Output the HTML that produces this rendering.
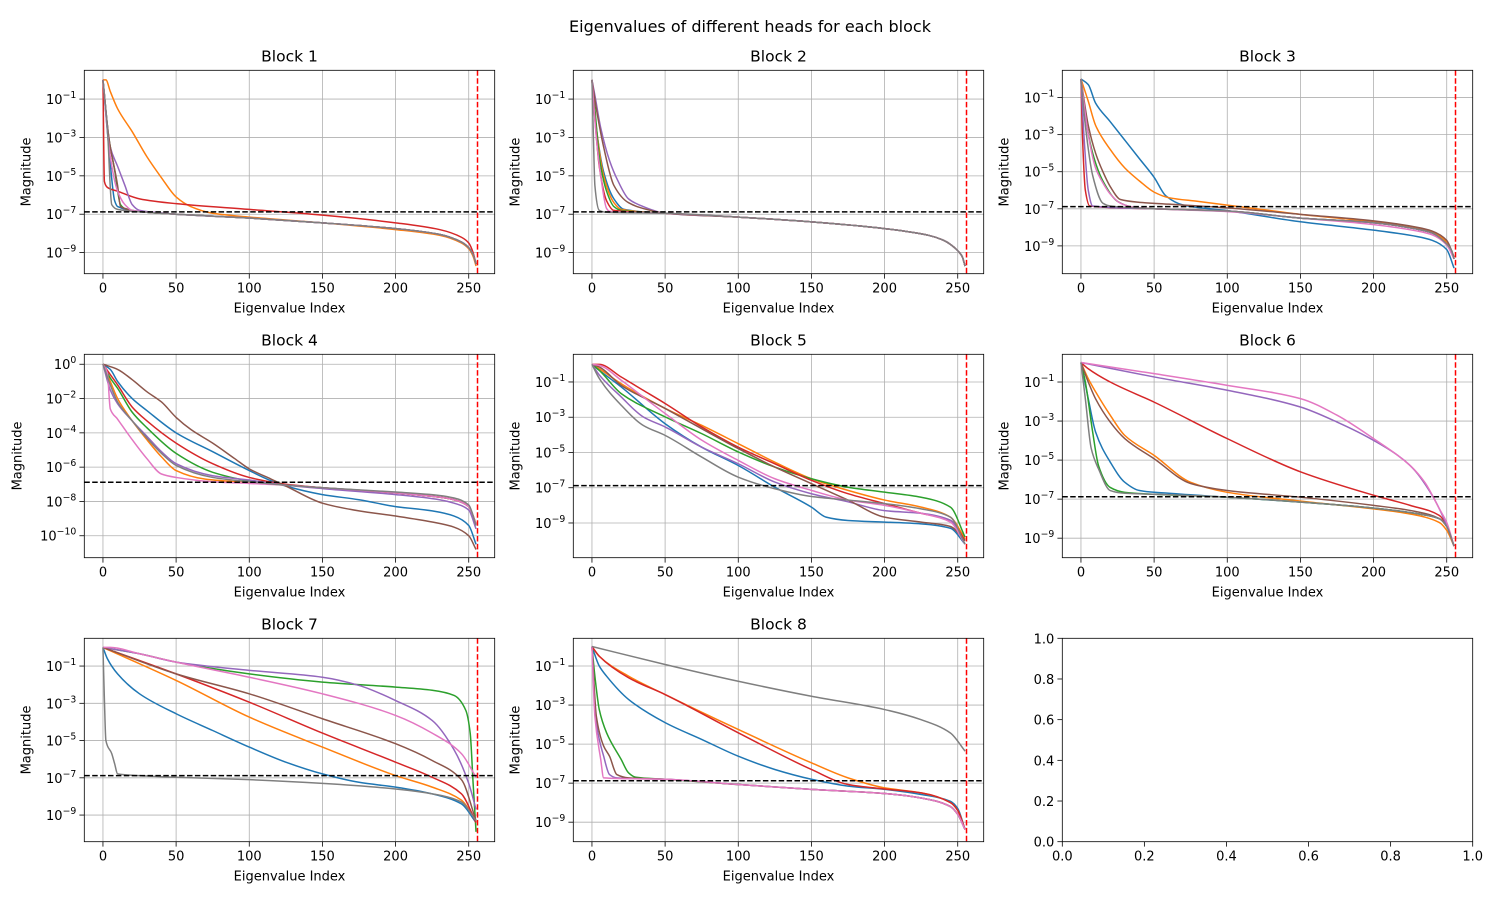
<!DOCTYPE html>
<html><head><meta charset="utf-8"><style>
html,body{margin:0;padding:0;background:#fff}
svg{display:block;font-family:"DejaVu Sans","Liberation Sans",sans-serif}
</style></head><body>
<svg id="fig" width="1500" height="900" viewBox="0 0 1500 900" xmlns="http://www.w3.org/2000/svg">
<rect width="1500" height="900" fill="#fff"/>
<text x="750" y="32" text-anchor="middle" font-size="16" fill="#000">Eigenvalues of different heads for each block</text>
</svg>
<script>
// colors of the 8 heads
const headColors = ["#1f77b4","#ff7f0e","#2ca02c","#d62728","#9467bd","#8c564b","#e377c2","#7f7f7f"];
const blockTitles = ["Block 1","Block 2","Block 3","Block 4","Block 5","Block 6","Block 7","Block 8"];
const xTicks = [0,50,100,150,200,250];
const yTickExpA = [-1,-3,-5,-7,-9];
const yTickExpB = [0,-2,-4,-6,-8,-10];
const thresholdLog = -6.88;
const cutoffIndex = 256;
const yLimits = [[-10.1,0.5],[-10.1,0.5],[-10.5,0.47],[-11.28,0.58],[-10.97,0.57],[-10.0,0.42],[-10.43,0.49],[-10.0,0.42]];
const emptyTicks = ["0.0","0.2","0.4","0.6","0.8","1.0"];

// series data: [index, log10(magnitude)] pairs, order = heads 1..8
const tail1 = [[50,-7.0],[100,-7.2],[150,-7.45],[200,-7.75],[230,-8.05],[245,-8.45],[250,-8.75],[253,-9.1],[255,-9.6]];
const block1 = [
 [[0,0],[4,-3.5],[8,-6.3],[10,-6.6],[30,-6.9]].concat(tail1),
 [[0,0],[2,0],[5,-0.6],[10,-1.5],[20,-2.7],[30,-4],[40,-5.1],[50,-6.1],[60,-6.6],[75,-6.95],[100,-7.15],[150,-7.45],[200,-7.8],[230,-8.1],[245,-8.5],[250,-8.8],[253,-9.2],[255,-9.7]],
 [[0,0],[4,-3],[8,-4.7],[12,-6.5],[15,-6.7],[30,-6.9]].concat(tail1),
 [[0,0],[1,-5.3],[3,-5.6],[10,-5.8],[25,-6.2],[50,-6.45],[100,-6.75],[150,-7.05],[200,-7.45],[230,-7.8],[245,-8.2],[250,-8.5],[253,-9],[255,-9.6]],
 [[0,0],[5,-3.5],[10,-4.5],[15,-5.5],[20,-6.5],[25,-6.8],[35,-6.9]].concat(tail1),
 [[0,0],[4,-3],[10,-5.5],[12,-6.6],[30,-6.9]].concat(tail1),
 [[0,0],[5,-4],[10,-5.8],[15,-6.5],[20,-6.8],[35,-6.92]].concat(tail1),
 [[0,0],[3,-2.5],[6,-6.5],[10,-6.75],[30,-6.9]].concat(tail1)
];
const tail2 = [[50,-6.95],[100,-7.15],[150,-7.4],[200,-7.75],[230,-8.1],[240,-8.35],[250,-8.9],[253,-9.2],[255,-9.7]];
const block2 = [
 [[0,0],[3,-2.5],[8,-4.8],[15,-6.2],[22,-6.75]].concat(tail2),
 [[0,0],[3,-2.5],[8,-5],[15,-6.4],[20,-6.75]].concat(tail2),
 [[0,0],[2,-1.5],[5,-4],[10,-5.8],[15,-6.6],[20,-6.8]].concat(tail2),
 [[0,0],[2,-2],[5,-4.5],[10,-6.3],[15,-6.8]].concat(tail2),
 [[0,0],[2,-0.8],[6,-2.5],[12,-4.2],[18,-5.3],[25,-6.2],[35,-6.6]].concat(tail2),
 [[0,0],[3,-1.5],[8,-3.5],[15,-5.5],[25,-6.4],[40,-6.8]].concat(tail2),
 [[0,0],[3,-3],[6,-5],[10,-6.7],[12,-6.85]].concat(tail2),
 [[0,0],[1,-3],[2,-5.5],[5,-6.8],[10,-6.9]].concat(tail2)
];
const tail3 = [[50,-7.0],[100,-7.12],[150,-7.5],[200,-7.75],[230,-8.1],[240,-8.3],[250,-8.9],[253,-9.2],[255,-9.7]];
const block3 = [
 [[0,0],[5,-0.3],[10,-1.3],[20,-2.3],[30,-3.3],[40,-4.3],[50,-5.3],[58,-6.3],[70,-6.8],[100,-7.1],[150,-7.7],[200,-8.15],[230,-8.5],[240,-8.7],[250,-9.2],[255,-10.2]],
 [[0,0],[5,-1.2],[10,-2.5],[20,-3.8],[30,-4.8],[40,-5.5],[50,-6.1],[60,-6.4],[80,-6.6],[100,-6.8],[125,-7.05],[150,-7.3],[200,-7.7],[230,-8.05],[240,-8.25],[250,-8.8],[255,-9.6]],
 [[0,0],[3,-2],[8,-4],[15,-5.5],[25,-6.6],[35,-6.9]].concat(tail3),
 [[0,0],[1,-3],[3,-6],[6,-6.85]].concat(tail3),
 [[0,0],[2,-3],[5,-6],[8,-6.85]].concat(tail3),
 [[0,0],[5,-2.5],[10,-4],[15,-5],[20,-5.8],[27,-6.5],[40,-6.65],[60,-6.75],[100,-6.95],[150,-7.3],[200,-7.65],[230,-8.0],[240,-8.2],[250,-8.7],[255,-9.6]],
 [[0,0],[5,-3],[10,-4.8],[15,-5.6],[20,-6.2],[27,-6.7],[35,-6.9],[50,-7.0],[100,-7.15],[150,-7.5],[200,-7.85],[230,-8.2],[240,-8.4],[250,-8.95],[255,-9.7]],
 [[0,0],[3,-2.5],[8,-5.2],[15,-6.7],[20,-6.85]].concat(tail3)
];
const block4 = [
 [[0,0],[5,-0.3],[10,-1],[20,-2],[30,-2.7],[50,-4],[75,-5.1],[100,-6.2],[115,-6.8],[125,-7.1],[150,-7.6],[175,-7.9],[200,-8.3],[225,-8.55],[240,-8.85],[250,-9.4],[255,-10.5]],
 [[0,0],[5,-1],[10,-2],[20,-3.3],[30,-4.4],[40,-5.4],[50,-6.2],[70,-6.7],[100,-6.9],[125,-7.05],[150,-7.2],[200,-7.5],[230,-7.75],[240,-7.9],[250,-8.3],[255,-9.3]],
 [[0,0],[5,-0.8],[10,-1.4],[20,-2.8],[30,-3.7],[50,-5.2],[75,-6.3],[100,-6.8],[125,-7.05],[150,-7.2],[200,-7.5],[230,-7.75],[240,-7.9],[250,-8.3],[255,-9.3]],
 [[0,0],[5,-0.6],[10,-1.2],[20,-2.5],[30,-3.3],[50,-4.6],[75,-5.8],[100,-6.6],[125,-7.0],[150,-7.2],[200,-7.5],[230,-7.75],[240,-7.9],[250,-8.3],[255,-9.3]],
 [[0,0],[5,-1.5],[10,-2.3],[20,-3.3],[30,-4.2],[40,-5.1],[50,-5.8],[75,-6.5],[100,-6.75],[125,-7.05],[150,-7.25],[200,-7.6],[230,-7.9],[240,-8.1],[250,-8.5],[255,-9.6]],
 [[0,0],[10,-0.3],[20,-0.9],[30,-1.6],[40,-2.2],[50,-3.1],[60,-3.8],[75,-4.6],[90,-5.5],[100,-6.1],[115,-6.7],[125,-7.1],[150,-8.1],[175,-8.55],[200,-8.85],[225,-9.2],[240,-9.5],[250,-10.0],[255,-10.8]],
 [[0,0],[3,-0.5],[5,-2.6],[10,-3.2],[20,-4.4],[30,-5.5],[40,-6.4],[50,-6.6],[75,-6.85],[100,-6.95],[125,-7.05],[150,-7.2],[200,-7.5],[230,-7.75],[240,-7.9],[250,-8.3],[255,-9.3]],
 [[0,0],[5,-1.2],[10,-2.2],[20,-3.3],[30,-4.3],[40,-5.2],[50,-5.9],[75,-6.6],[100,-6.85],[125,-7.05],[150,-7.2],[200,-7.45],[230,-7.65],[240,-7.8],[250,-8.2],[255,-9.4]]
];
const block5 = [
 [[0,0],[5,-0.34],[20,-1.28],[50,-3.37],[75,-4.7],[100,-5.74],[125,-6.97],[150,-8.1],[160,-8.67],[175,-8.86],[200,-8.95],[225,-9.05],[245,-9.3],[255,-10.2]],
 [[0,0],[5,-0.25],[20,-1.1],[50,-2.5],[75,-3.46],[100,-4.5],[125,-5.55],[150,-6.49],[175,-7.15],[200,-7.7],[225,-8.1],[245,-8.67],[255,-9.9]],
 [[0,0],[5,-0.34],[20,-1.66],[50,-2.98],[75,-3.93],[100,-4.97],[125,-5.83],[150,-6.49],[175,-6.97],[200,-7.25],[225,-7.54],[245,-8.1],[255,-9.8]],
 [[0,0],[5,0],[20,-0.72],[35,-1.47],[50,-2.22],[75,-3.55],[100,-4.7],[125,-5.64],[150,-6.58],[175,-7.34],[200,-7.9],[225,-8.45],[245,-8.85],[255,-10]],
 [[0,0],[5,-0.6],[20,-1.85],[35,-2.98],[50,-3.55],[75,-4.7],[100,-5.64],[125,-6.68],[150,-7.34],[175,-7.8],[200,-8.3],[225,-8.45],[245,-8.85],[255,-10.2]],
 [[0,0],[5,-0.15],[20,-1.19],[50,-2.5],[75,-3.65],[100,-4.78],[125,-5.83],[150,-6.77],[175,-7.7],[200,-8.67],[225,-8.95],[245,-9.2],[255,-10.0]],
 [[0,0],[5,-0.06],[20,-0.9],[35,-1.85],[50,-2.79],[75,-4.3],[100,-5.45],[125,-6.49],[150,-7.15],[175,-7.7],[200,-8.0],[225,-8.45],[245,-8.95],[255,-10.2]],
 [[0,0],[5,-0.8],[20,-2.32],[35,-3.46],[50,-4.03],[75,-5.26],[100,-6.4],[125,-7.06],[150,-7.5],[175,-7.7],[200,-7.9],[225,-8.2],[245,-8.67],[255,-10.2]]
];
const tail6 = [[50,-6.75],[100,-6.9],[150,-7.15],[200,-7.46],[230,-7.75],[245,-8.0],[250,-8.4],[255,-9.4]];
const block6 = [
 [[0,0],[5,-1.86],[10,-3.56],[20,-5.1],[30,-6.14],[40,-6.56],[60,-6.7],[100,-6.9],[150,-7.15],[200,-7.46],[230,-7.75],[245,-8.0],[250,-8.4],[255,-9.4]],
 [[0,0],[5,-0.83],[10,-1.5],[20,-2.7],[30,-3.74],[50,-4.76],[75,-6.14],[100,-6.65],[150,-7.1],[200,-7.5],[225,-7.76],[245,-8.2],[250,-8.6],[255,-9.4]],
 [[0,0],[3,-1.0],[8,-3.56],[12,-5.28],[20,-6.4],[30,-6.65]].concat(tail6),
 [[0,0],[5,-0.32],[20,-1.0],[50,-2.03],[100,-3.9],[150,-5.6],[200,-6.8],[225,-7.32],[245,-7.84],[250,-8.35],[255,-9.4]],
 [[0,0],[50,-0.74],[100,-1.42],[150,-2.28],[175,-3.05],[200,-3.99],[225,-5.28],[240,-6.8],[250,-8.35],[255,-9.4]],
 [[0,0],[5,-1.0],[10,-1.86],[20,-3.05],[30,-3.9],[50,-4.93],[75,-6.2],[100,-6.56],[150,-6.9],[200,-7.32],[230,-7.65],[245,-8.0],[250,-8.4],[255,-9.4]],
 [[0,0],[50,-0.57],[100,-1.17],[150,-1.85],[175,-2.7],[200,-3.9],[225,-5.28],[235,-6.14],[245,-7.5],[250,-8.2],[255,-9.4]],
 [[0,0],[3,-1.86],[7,-4.4],[12,-5.45],[20,-6.56],[30,-6.7]].concat(tail6)
];
const block7 = [
 [[0,0],[3,-0.6],[10,-1.42],[25,-2.49],[50,-3.56],[75,-4.46],[100,-5.35],[125,-6.16],[150,-6.79],[175,-7.24],[200,-7.5],[225,-7.86],[245,-8.4],[255,-9.4]],
 [[0,0],[50,-1.77],[100,-3.74],[150,-5.35],[200,-6.88],[225,-7.5],[245,-8.2],[255,-9.3]],
 [[0,0],[25,-0.34],[50,-0.79],[100,-1.42],[150,-1.86],[200,-2.13],[225,-2.3],[240,-2.58],[248,-3.38],[251,-4.6],[253,-7.3],[255,-9.9]],
 [[0,0],[50,-1.42],[100,-2.94],[150,-4.6],[200,-6.16],[225,-6.97],[245,-7.86],[255,-9.4]],
 [[0,0],[25,-0.34],[50,-0.79],[100,-1.23],[150,-1.6],[175,-2.04],[200,-2.85],[225,-3.92],[240,-5.5],[250,-7.3],[255,-8.7]],
 [[0,0],[50,-1.42],[100,-2.49],[150,-3.83],[200,-5.17],[225,-6.07],[245,-7.1],[255,-9.3]],
 [[0,0],[5,0],[25,-0.34],[50,-0.79],[100,-1.6],[150,-2.49],[200,-3.65],[225,-4.6],[245,-5.7],[255,-6.97]],
 [[0,0],[1,-2.85],[2,-4.99],[6,-5.7],[8,-6.25],[10,-6.79],[25,-6.88],[50,-6.97],[100,-7.1],[150,-7.3],[200,-7.6],[225,-7.86],[245,-8.3],[255,-9.3]]
];
const tail8 = [[50,-6.8],[100,-7.07],[150,-7.32],[200,-7.53],[225,-7.76],[245,-8.2],[250,-8.6],[255,-9.37]];
const block8 = [
 [[0,0],[5,-1.0],[10,-1.52],[25,-2.71],[50,-3.9],[75,-4.76],[100,-5.62],[125,-6.3],[150,-6.8],[175,-7.15],[200,-7.32],[225,-7.58],[245,-7.93],[250,-8.3],[255,-9.37]],
 [[0,0],[5,-0.5],[25,-1.52],[50,-2.46],[100,-4.25],[150,-5.96],[175,-6.73],[200,-7.24],[225,-7.5],[245,-8.0],[250,-8.4],[255,-9.37]],
 [[0,0],[2,-1.52],[5,-3.23],[10,-4.42],[20,-5.79],[25,-6.47],[30,-6.7]].concat(tail8),
 [[0,0],[5,-0.5],[25,-1.6],[50,-2.46],[100,-4.42],[150,-6.3],[175,-7.07],[200,-7.3],[225,-7.5],[245,-8.0],[250,-8.4],[255,-9.37]],
 [[0,0],[3,-3.9],[8,-5.62],[12,-6.56],[17,-6.73]].concat(tail8),
 [[0,0],[3,-3.57],[8,-5.1],[12,-5.62],[17,-6.56],[25,-6.73]].concat(tail8),
 [[0,0],[2,-3.57],[6,-5.79],[8,-6.73]].concat(tail8),
 [[0,0],[50,-0.92],[100,-1.78],[150,-2.55],[200,-3.23],[225,-3.75],[245,-4.43],[255,-5.36]]
];
const blocks = [block1,block2,block3,block4,block5,block6,block7,block8];

const NS = "http://www.w3.org/2000/svg";
const svg = document.getElementById("fig");
const colLeft = [84.3, 573.3, 1062.3];
const rowTop = [70.3, 354.3, 638.3];
const AW = 410.4, AH = 203.4;
const XMIN = -12.75, XMAX = 267.75;

function mk(tag, attrs, parent){
  const e = document.createElementNS(NS, tag);
  for (const k in attrs) e.setAttribute(k, attrs[k]);
  (parent||svg).appendChild(e);
  return e;
}

// monotone cubic path through pixel points
function monoPath(P){
  const n = P.length;
  if (n < 3) return P.map((p,i)=>(i?"L":"M")+p[0].toFixed(2)+","+p[1].toFixed(2)).join("");
  const d = [], m = new Array(n);
  for (let i=0;i<n-1;i++) d.push((P[i+1][1]-P[i][1])/(P[i+1][0]-P[i][0]));
  m[0]=d[0]; m[n-1]=d[n-2];
  for (let i=1;i<n-1;i++){
    if (d[i-1]*d[i] <= 0) m[i]=0;
    else { const h0=P[i][0]-P[i-1][0], h1=P[i+1][0]-P[i][0];
      const w1=2*h1+h0, w2=h1+2*h0; m[i]=(w1+w2)/(w1/d[i-1]+w2/d[i]); }
  }
  let s = "M"+P[0][0].toFixed(2)+","+P[0][1].toFixed(2);
  for (let i=0;i<n-1;i++){
    const h=(P[i+1][0]-P[i][0])/3;
    s += "C"+(P[i][0]+h).toFixed(2)+","+(P[i][1]+m[i]*h).toFixed(2)+" "+(P[i+1][0]-h).toFixed(2)+","+(P[i+1][1]-m[i+1]*h).toFixed(2)+" "+P[i+1][0].toFixed(2)+","+P[i+1][1].toFixed(2);
  }
  return s;
}

function drawPanel(b){
  const L = colLeft[b%3], T = rowTop[Math.floor(b/3)];
  const [ymin, ymax] = yLimits[b];
  const xs = v => L + (v - XMIN)/(XMAX - XMIN)*AW;
  const ys = v => T + (ymax - v)/(ymax - ymin)*AH;
  const g = mk("g", {});
  
  
  const exps = b === 3 ? yTickExpB : yTickExpA;
  xTicks.forEach(t => {
    const l = mk("line", {x1:xs(t), x2:xs(t), y1:T, y2:T+AH, stroke:"#b0b0b0", "stroke-width":0.8}, g);
    
    
  });
  exps.forEach(e => {
    const l = mk("line", {x1:L, x2:L+AW, y1:ys(e), y2:ys(e), stroke:"#b0b0b0", "stroke-width":0.8}, g);
    
    
  });
  const clipId = "clip" + b;
  const cp = mk("clipPath", {id: clipId}, g);
  mk("rect", {x:L, y:T, width:AW, height:AH}, cp);
  const lg = mk("g", {"clip-path": "url(#" + clipId + ")"}, g);
  blocks[b].forEach((ser, h) => {
    const d = monoPath(ser.map(p => [xs(p[0]), ys(p[1])]));
    const p = mk("path", {d, fill:"none", stroke:headColors[h], "stroke-width":1.5, "stroke-linejoin":"round"}, lg);
    
    
  });
  const th = mk("line", {x1:L, x2:L+AW, y1:ys(thresholdLog), y2:ys(thresholdLog), stroke:"#000", "stroke-width":1.5, "stroke-dasharray":"5.5,2.4"}, lg);
  
  
  const cut = mk("line", {x1:xs(cutoffIndex), x2:xs(cutoffIndex), y1:T, y2:T+AH, stroke:"#ff0000", "stroke-width":1.5, "stroke-dasharray":"5.5,2.4"}, lg);
  
  
  const fr = mk("rect", {x:L, y:T, width:AW, height:AH, fill:"none", stroke:"#000", "stroke-width":0.8}, g);
  
  
  xTicks.forEach(t => {
    mk("line", {x1:xs(t), x2:xs(t), y1:T+AH, y2:T+AH+4.9, stroke:"#000", "stroke-width":0.8}, g);
    const tx = mk("text", {x:xs(t), y:T+AH+19, "text-anchor":"middle", "font-size":13}, g);
    tx.textContent = t;
    
    
  });
  exps.forEach(e => {
    mk("line", {x1:L-4.9, x2:L, y1:ys(e), y2:ys(e), stroke:"#000", "stroke-width":0.8}, g);
    const tx = mk("text", {x:L-8, y:ys(e)+5, "text-anchor":"end", "font-size":13}, g);
    const a = mk("tspan", {}, tx); a.textContent = "10";
    const s = mk("tspan", {dy:-6, "font-size":9.3}, tx); s.textContent = (e<0 ? "\u2212" + (-e) : String(e));
    
    
  });
  const xl = mk("text", {x:L+AW/2, y:T+AH+39, "text-anchor":"middle", "font-size":13}, g);
  xl.textContent = "Eigenvalue Index";
  
  
  const yx = L - (b===3 ? 63 : 54), yy = T + AH/2;
  const yl = mk("text", {x:yx, y:yy, "text-anchor":"middle", "font-size":13, transform:"rotate(-90 " + yx + " " + yy + ")"}, g);
  yl.textContent = "Magnitude";
  
  
  const tt = mk("text", {x:L+AW/2, y:T-9, "text-anchor":"middle", "font-size":15.5}, g);
  tt.textContent = blockTitles[b];
  
  
}
for (let b = 0; b < 8; b++) drawPanel(b);

(function(){
  const L = colLeft[2], T = rowTop[2];
  const g = mk("g", {});
  
  
  mk("rect", {x:L, y:T, width:AW, height:AH, fill:"none", stroke:"#000", "stroke-width":0.8}, g);
  emptyTicks.forEach((t, i) => {
    const x = L + i/5*AW, y = T + AH - i/5*AH;
    mk("line", {x1:x, x2:x, y1:T+AH, y2:T+AH+4.9, stroke:"#000", "stroke-width":0.8}, g);
    const a = mk("text", {x:x, y:T+AH+19, "text-anchor":"middle", "font-size":13}, g);
    a.textContent = t;
    
    
    mk("line", {x1:L-4.9, x2:L, y1:y, y2:y, stroke:"#000", "stroke-width":0.8}, g);
    const c = mk("text", {x:L-8, y:y+5, "text-anchor":"end", "font-size":13}, g);
    c.textContent = t;
    
    
  });
})();
</script>
</body></html>
